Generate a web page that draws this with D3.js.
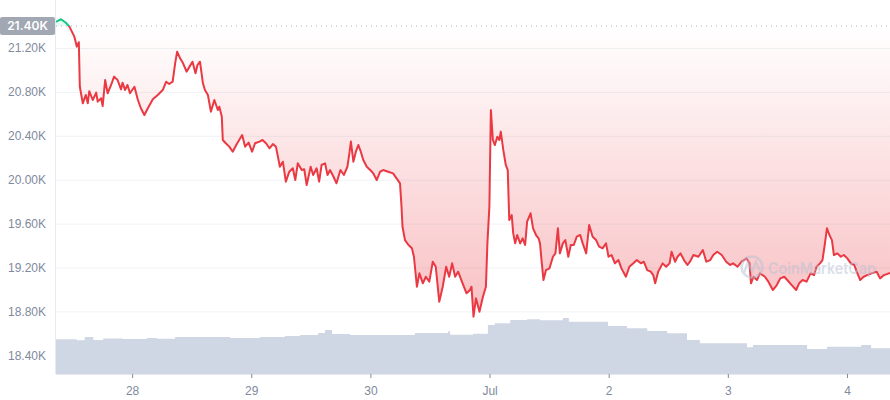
<!DOCTYPE html>
<html lang="en">
<head>
<meta charset="utf-8">
<script src="https://cdn.jsdelivr.net/npm/d3@7"></script>
<style>
  body { margin: 0; background: #fff; }
  svg { display: block; font-family: Inter, "Noto Sans", sans-serif; }
</style>
</head>
<body>
<script>
// price: hours since 27 Jun 08:40, value in USD
var priceHours = [0, 1.0, 2.0, 2.7, 3.7, 4.2, 4.6, 4.8, 5.4, 6.0, 6.4, 6.7, 7.4, 8.1, 8.4, 9.1, 9.4, 9.9, 10.4, 11.1,
  11.7, 12.4, 13.1, 13.4, 13.9, 14.4, 14.9, 15.8, 16.5, 17.1, 17.8, 18.5, 19.5, 20.5, 21.5, 22.2, 22.8, 23.5, 24.0, 24.4,
  25.0, 25.6, 26.3, 26.9, 27.5, 28.1, 28.5, 29.0, 29.6, 30.0, 30.6, 31.2, 31.9, 32.6, 32.9, 33.4, 33.6, 34.2, 34.9, 35.6,
  36.3, 36.9, 37.5, 38.1, 38.8, 39.5, 40.1, 41.0, 41.6, 42.3, 43.0, 43.7, 44.3, 45.1, 45.7, 46.3, 47.0, 47.7, 48.2, 48.7,
  49.5, 50.0, 50.5, 51.3, 51.8, 52.5, 53.0, 53.5, 54.2, 54.7, 55.2, 55.9, 56.5, 57.3, 58.0, 58.7, 59.1, 59.4, 59.9, 60.4,
  60.9, 61.4, 61.9, 62.6, 63.3, 63.9, 64.6, 65.3, 65.9, 66.9, 67.9, 68.6, 69.3, 69.6, 69.8, 70.3, 71.0, 71.7, 72.1, 72.7,
  73.2, 73.9, 74.5, 75.2, 75.9, 76.5, 77.2, 77.9, 78.6, 79.2, 79.8, 80.4, 81.0, 81.9, 82.7, 83.4, 83.7, 84.1, 84.6, 85.3,
  86.0, 86.6, 86.9, 87.3, 87.6, 88.0, 88.4, 88.9, 89.3, 89.6, 90.1, 90.6, 91.0, 91.3, 91.8, 92.1, 92.5, 92.9, 93.5, 94.0,
  94.5, 94.9, 95.6, 96.1, 96.7, 97.2, 97.5, 97.8, 98.2, 98.7, 99.4, 100.1, 100.6, 101.1, 101.5, 102.1, 102.6, 103.2, 103.7, 104.3,
  104.9, 105.6, 106.1, 106.8, 107.4, 108.1, 108.8, 109.4, 110.1, 110.8, 111.3, 111.9, 112.6, 113.3, 113.9, 114.8, 115.5, 116.3, 117.0, 117.8,
  118.4, 119.1, 119.8, 120.3, 120.7, 121.3, 122.2, 122.9, 123.6, 124.0, 124.7, 125.2, 125.8, 126.5, 127.2, 127.7, 128.4, 129.4, 130.3, 131.0,
  131.8, 132.4, 133.2, 134.1, 135.0, 135.8, 136.4, 137.3, 138.1, 139.1, 139.7, 140.0, 140.5, 141.2, 141.8, 142.8, 143.5, 144.4, 145.2, 145.9,
  146.7, 147.3, 148.2, 149.1, 149.7, 150.4, 151.2, 152.0, 152.7, 153.2, 153.9, 154.4, 154.8, 155.3, 155.8, 156.3, 156.7, 157.4, 158.1, 158.7,
  159.4, 160.1, 160.8, 161.3, 162.0, 162.7, 163.4, 164.3, 165.3, 166.0, 166.8, 168.0];
var priceValues = [21437, 21462, 21430, 21394, 21303, 21212, 21252, 20847, 20696, 20772, 20696, 20806, 20726, 20793, 20711, 20742, 20671, 20908, 20787, 20863,
  20939, 20908, 20823, 20884, 20817, 20863, 20787, 20847, 20726, 20651, 20589, 20651, 20733, 20772, 20817, 20893, 20872, 20893, 21060, 21166,
  21106, 21060, 20984, 21030, 21075, 20969, 21045, 21075, 20878, 20817, 20772, 20620, 20726, 20635, 20665, 20574, 20362, 20332, 20301, 20255,
  20316, 20362, 20407, 20301, 20338, 20255, 20332, 20347, 20362, 20332, 20286, 20325, 20301, 20118, 20164, 19982, 20073, 20104, 19997, 20149,
  20088, 20095, 19952, 20118, 20043, 20104, 19982, 20134, 20149, 20043, 20088, 20027, 19967, 20088, 20043, 20118, 20240, 20347, 20164, 20255,
  20316, 20255, 20179, 20118, 20088, 20058, 19997, 20073, 20088, 20073, 20058, 20012, 19967, 19754, 19571, 19450, 19405, 19375, 19298, 19025,
  19147, 19056, 19116, 19071, 19253, 19207, 18888, 19025, 19207, 19116, 19238, 19116, 19162, 19056, 18965, 18995, 19025, 18752, 18919, 18797,
  18934, 19025, 19420, 19754, 20635, 20362, 20316, 20392, 20362, 20438, 20271, 20134, 20088, 19633, 19678, 19511, 19420, 19496, 19420, 19466,
  19405, 19618, 19694, 19557, 19496, 19466, 19420, 19268, 19086, 19177, 19192, 19298, 19329, 19557, 19329, 19420, 19450, 19298, 19405, 19405,
  19481, 19496, 19420, 19329, 19587, 19481, 19450, 19390, 19375, 19420, 19298, 19314, 19238, 19268, 19192, 19116, 19207, 19238, 19268, 19238,
  19253, 19177, 19162, 19131, 19056, 19162, 19238, 19207, 19238, 19344, 19253, 19298, 19329, 19268, 19223, 19253, 19314, 19298, 19359, 19253,
  19268, 19314, 19344, 19314, 19253, 19223, 19238, 19207, 19253, 19283, 19238, 19056, 19116, 19086, 19147, 19116, 19071, 18995, 19040, 19101,
  19116, 19086, 19040, 18995, 19056, 19086, 19071, 19147, 19131, 19207, 19238, 19268, 19390, 19557, 19496, 19450, 19314, 19329, 19298, 19314,
  19283, 19238, 19223, 19162, 19086, 19116, 19131, 19147, 19162, 19101, 19131, 19150];

// volume (24h, USD billions), step points
var volHours = [0, 4.2, 5.8, 7.5, 9.5, 13.5, 18.3, 20.3, 24.0, 29.0, 35.1, 41.1, 46.1, 49.2, 52.8, 54.2, 55.6, 59.2, 69.3, 72.3,
  78.4, 79.0, 79.4, 84.0, 87.0, 88.4, 91.5, 94.9, 97.5, 102.1, 103.3, 111.2, 115.0, 119.1, 123.1, 127.1, 129.7, 139.2, 140.4, 151.3,
  155.3, 162.2, 164.2, 168.0];
var volValues = [23.2, 22.5, 24.7, 22.7, 23.8, 23.4, 24.1, 23.6, 24.7, 24.7, 24.1, 24.7, 25.4, 26.1, 27.4, 29.4, 26.7, 26.1, 26.1, 27.4,
  27.4, 28.5, 26.3, 26.9, 32.8, 33.9, 36.1, 36.6, 35.9, 37.4, 35.0, 32.1, 30.5, 28.7, 27.2, 22.7, 20.5, 17.8, 19.4, 16.7,
  18.2, 19.4, 17.2, 17.2];

var yTicks = [18400, 18800, 19200, 19600, 20000, 20400, 20800, 21200];
var baseValue = 21400;
var baseLabel = "21.40K";

var W = 890, H = 400;
var left = 56, right = 890, bottom = 374;
var red = "#ea3943", green = "#16c784";

var t0 = new Date(2022, 5, 27, 8, 40);
function hToDate(h) { return new Date(t0.getTime() + h * 3600000); }

var price = priceHours.map(function(h, i) { return { t: hToDate(h), v: priceValues[i] }; });
var vol = volHours.map(function(h, i) { return { t: hToDate(h), v: volValues[i] }; });

var x = d3.scaleTime().domain([t0, hToDate(168)]).range([left, right]);
var y = d3.scaleLinear().domain([18230, 21637]).range([bottom, 0]);
var yVol = d3.scaleLinear().domain([0, 250]).range([bottom, 0]);

var svg = d3.select("body").append("svg").attr("width", W).attr("height", H);

// grid + y labels
var yAxis = svg.append("g")
  .attr("transform", "translate(" + left + ",0)")
  .call(d3.axisLeft(y).tickValues(yTicks).tickSize(-(right - left)).tickPadding(10)
    .tickFormat(function(d) { return (d / 1000).toFixed(2) + "K"; }));
yAxis.select(".domain").remove();
yAxis.selectAll("line").attr("stroke", "#eff2f5");
yAxis.selectAll("text").attr("fill", "#808a9d").style("font-size", "12px");

// volume
svg.append("path")
  .datum(vol)
  .attr("fill", "#cfd6e4")
  .attr("d", d3.area().curve(d3.curveStepAfter)
    .x(function(d) { return x(d.t); })
    .y0(bottom)
    .y1(function(d) { return yVol(d.v); }));

var baseY = y(baseValue);
var minY = y(d3.min(priceValues));

var defs = svg.append("defs");
var grad = defs.append("linearGradient").attr("id", "redFill")
  .attr("gradientUnits", "userSpaceOnUse")
  .attr("x1", 0).attr("x2", 0).attr("y1", baseY).attr("y2", minY);
grad.append("stop").attr("offset", "0%").attr("stop-color", red).attr("stop-opacity", 0.0);
grad.append("stop").attr("offset", "100%").attr("stop-color", red).attr("stop-opacity", 0.32);

defs.append("clipPath").attr("id", "below").append("rect")
  .attr("x", left).attr("y", baseY).attr("width", right - left).attr("height", bottom - baseY);
defs.append("clipPath").attr("id", "above").append("rect")
  .attr("x", left).attr("y", 0).attr("width", right - left).attr("height", baseY);

var area = d3.area()
  .x(function(d) { return x(d.t); })
  .y0(baseY)
  .y1(function(d) { return y(d.v); });
var line = d3.line()
  .x(function(d) { return x(d.t); })
  .y(function(d) { return y(d.v); });

svg.append("path").datum(price).attr("clip-path", "url(#below)")
  .attr("fill", "url(#redFill)").attr("d", area);
svg.append("path").datum(price).attr("clip-path", "url(#above)")
  .attr("fill", green).attr("fill-opacity", 0.1).attr("d", area);

svg.append("path").datum(price).attr("clip-path", "url(#below)")
  .attr("fill", "none").attr("stroke", red).attr("stroke-width", 2)
  .attr("stroke-linejoin", "round").attr("d", line);
svg.append("path").datum(price).attr("clip-path", "url(#above)")
  .attr("fill", "none").attr("stroke", green).attr("stroke-width", 2)
  .attr("stroke-linejoin", "round").attr("d", line);

// base dotted line
svg.append("line")
  .attr("x1", left).attr("x2", right).attr("y1", baseY).attr("y2", baseY)
  .attr("stroke", "#a6b0c3").attr("stroke-width", 1).attr("stroke-dasharray", "1,4");

// axis lines
svg.append("line").attr("x1", left - 0.5).attr("x2", left - 0.5).attr("y1", 0).attr("y2", bottom)
  .attr("stroke", "#e6e9ee");

var xAxis = svg.append("g")
  .attr("transform", "translate(0," + bottom + ")")
  .call(d3.axisBottom(x).ticks(d3.timeDay.every(1)).tickSize(4).tickPadding(8)
    .tickFormat(function(d) { return d.getDate() === 1 ? d3.timeFormat("%b")(d) : d3.timeFormat("%-d")(d); }));
xAxis.select(".domain").attr("stroke", "#e6e9ee").attr("d", "M" + left + ",0.5H" + right);
xAxis.selectAll("line").attr("stroke", "#808a9d");
xAxis.selectAll("text").attr("fill", "#808a9d").style("font-size", "12px");

// base label
svg.append("rect").attr("x", 0).attr("y", baseY - 9).attr("width", 55).attr("height", 18)
  .attr("rx", 2).attr("fill", "#a1a7b3");
svg.append("text").attr("x", 27.5).attr("y", baseY).attr("dy", "0.35em")
  .attr("text-anchor", "middle").attr("fill", "#fff")
  .style("font-size", "12px").style("font-weight", "600").text(baseLabel);

// watermark
var wm = svg.append("g").attr("opacity", 0.5);
wm.append("circle").attr("cx", 752).attr("cy", 267).attr("r", 10.5)
  .attr("fill", "none").attr("stroke", "#b8c2d3").attr("stroke-width", 2.5);
wm.append("path").attr("d", "M744,273 L748,262 L752,272 L756,262 L760,271")
  .attr("fill", "none").attr("stroke", "#b8c2d3").attr("stroke-width", 2.5);
wm.append("text").attr("x", 768).attr("y", 274).attr("fill", "#b8c2d3")
  .attr("textLength", 108).attr("lengthAdjust", "spacingAndGlyphs")
  .style("font-size", "16px").style("font-weight", "600").text("CoinMarketCap");
</script>
</body>
</html>
